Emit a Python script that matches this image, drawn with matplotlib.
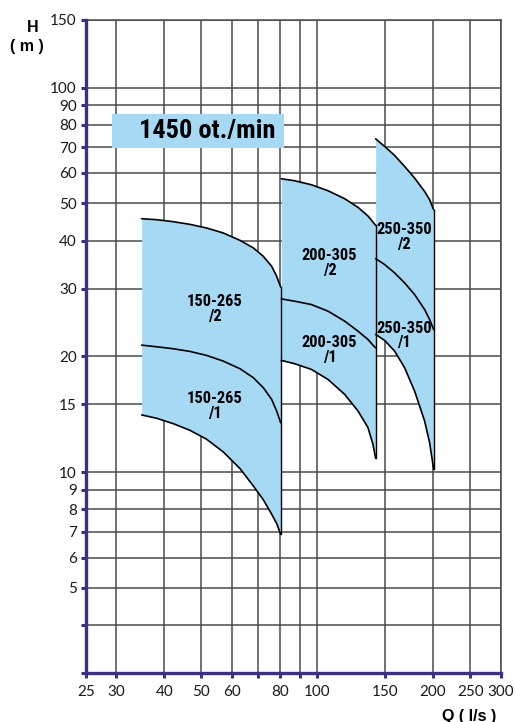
import matplotlib
matplotlib.use("Agg")
import matplotlib.pyplot as plt
from matplotlib.ticker import FixedLocator, FixedFormatter, NullLocator

# ---------------- data ----------------
x_ticks = [25, 30, 40, 50, 60, 70, 80, 90, 100, 150, 200, 250, 300]
x_tick_labels = ["25", "30", "40", "50", "60", "", "80", "", "100", "150", "200", "250", "300"]
y_ticks = [3, 4, 5, 6, 7, 8, 9, 10, 15, 20, 30, 40, 50, 60, 70, 80, 90, 100, 150]
y_tick_labels = ["", "", "5", "6", "7", "8", "9", "10", "15", "20", "30", "40", "50",
                 "60", "70", "80", "90", "100", "150"]

# pump 150-265
q_150 = [34.95, 38.24, 42.25, 46.67, 51.57, 56.98, 62.97, 68.21, 72.40, 76.11, 78.42, 80.33]
h_150_2 = [45.62, 45.35, 44.81, 44.10, 43.15, 41.88, 40.08, 38.30, 36.43, 34.32, 32.33, 30.33]
h_150_1 = [21.40, 21.19, 20.94, 20.61, 20.12, 19.45, 18.58, 17.61, 16.59, 15.47, 14.43, 13.45]
h_150_min = [14.09, 13.81, 13.37, 12.85, 12.18, 11.29, 10.22, 9.21, 8.48, 7.78, 7.36, 6.90]

# pump 200-305
q_200 = [80.64, 87.34, 96.52, 106.65, 117.84, 127.63, 135.51, 139.62, 141.87]
h_200_2 = [57.95, 57.26, 55.91, 53.94, 51.43, 48.83, 46.37, 44.72, 43.84]
h_200_1 = [28.23, 27.84, 27.29, 26.23, 24.71, 23.27, 22.14, 21.40, 21.06]
h_200_min = [19.53, 19.15, 18.51, 17.43, 15.94, 14.43, 13.06, 11.82, 10.87]

# pump 250-350
q_250 = [141.87, 149.74, 158.97, 168.75, 179.16, 190.21, 195.98, 200.8]
h_250_2 = [73.6, 70.31, 66.63, 62.39, 58.18, 53.73, 51.12, 48.15]
h_250_1 = [35.93, 34.67, 32.97, 31.07, 28.97, 26.49, 24.95, 23.50]
h_250_min = [22.82, 22.01, 20.65, 18.69, 16.25, 13.59, 11.94, 10.18]

labels_150 = ["150-265\n/2", "150-265\n/1"]
labels_200 = ["200-305\n/2", "200-305\n/1"]
labels_250 = ["250-350\n/2", "250-350\n/1"]
speed_text = "1450 ot./min"

# ---------------- styling ----------------
FILL = "#a5d9f4"
AXIS = "#3b2f8c"
GRID = "#4a4a4a"
W, H = 515, 722
DPI = 100
label_font = ["Roboto Condensed", "Liberation Sans Narrow", "Liberation Sans", "DejaVu Sans"]
tick_font = ["Lato", "DejaVu Sans"]

fig = plt.figure(figsize=(W / DPI, H / DPI), dpi=DPI)
ax_l, ax_r, ax_t, ax_b = 85.7, 500.7, 19.9, 673.3
ax = fig.add_axes([ax_l / W, (H - ax_b) / H, (ax_r - ax_l) / W, (ax_b - ax_t) / H])
ax.set_xscale("log")
ax.set_yscale("log")
ax.set_xlim(25, 300)
ax.set_ylim(3, 150)

ax.xaxis.set_major_locator(FixedLocator(x_ticks))
ax.xaxis.set_major_formatter(FixedFormatter(x_tick_labels))
ax.xaxis.set_minor_locator(NullLocator())
ax.yaxis.set_major_locator(FixedLocator(y_ticks))
ax.yaxis.set_major_formatter(FixedFormatter(y_tick_labels))
ax.yaxis.set_minor_locator(NullLocator())

ax.grid(True, which="major", color=GRID, linewidth=1.1, zorder=0)
ax.set_axisbelow(True)
for s in ["top", "right"]:
    ax.spines[s].set_visible(False)
for s in ["left", "bottom"]:
    ax.spines[s].set_color(AXIS)
    ax.spines[s].set_linewidth(2.4)
ax.axhline(150, color=GRID, lw=1.1, zorder=0, clip_on=False)
ax.axvline(300, color=GRID, lw=1.1, zorder=0, clip_on=False)

ax.tick_params(axis="both", which="major", direction="out", length=3.5, width=2.2,
               color=AXIS, labelsize=11, labelcolor="#1a1a1a")
ax.tick_params(axis="y", pad=3)
ax.tick_params(axis="x", pad=5)
for lab in ax.get_xticklabels() + ax.get_yticklabels():
    lab.set_family(tick_font)

def draw_pump(q, top, mid, bot, labels, xc, y2, y1):
    ax.fill_between(q, bot, top, color=FILL, lw=0, zorder=2)
    for h in (top, mid, bot):
        ax.plot(q, h, color="black", lw=1.2, zorder=3, solid_capstyle="round")
    ax.plot([q[-1], q[-1]], [bot[-1], top[-1]], color="black", lw=1.0, zorder=3)
    for txt, yy in ((labels[0], y2), (labels[1], y1)):
        ax.text(xc, yy, txt, ha="center", va="center", fontsize=11.8,
                fontweight="bold", family=label_font, linespacing=0.95, zorder=4)

def px2q(px):
    return 25 * 10 ** ((px - ax_l) / (ax_r - ax_l) * 1.0791812)

def px2h(py):
    return 3 * 10 ** ((ax_b - py) / (ax_b - ax_t) * 1.69897)

draw_pump(q_150, h_150_2, h_150_1, h_150_min, labels_150, px2q(215), px2h(309), px2h(406))
draw_pump(q_200, h_200_2, h_200_1, h_200_min, labels_200, px2q(329.5), px2h(263), px2h(350))
draw_pump(q_250, h_250_2, h_250_1, h_250_min, labels_250, px2q(404), px2h(237), px2h(335.5))

# speed box
fig.patches.append(plt.Rectangle((111.7 / W, (H - 147.7) / H), (284.3 - 111.7) / W,
                                 (147.7 - 114) / H, transform=fig.transFigure,
                                 facecolor=FILL, edgecolor="none", zorder=5))
fig.text(207.5 / W, (H - 131) / H, speed_text, ha="center", va="center", fontsize=19,
         fontweight="bold", family=label_font, zorder=6)

# axis titles
fig.text(33 / W, (H - 27) / H, "H", ha="center", va="center", fontsize=11.5,
         fontweight="bold", family=["Liberation Sans", "DejaVu Sans"])
fig.text(27 / W, (H - 46) / H, "( m )", ha="center", va="center", fontsize=11.5,
         fontweight="bold", family=["Liberation Sans", "DejaVu Sans"])
fig.text(469 / W, (H - 716) / H, "Q ( l/s )", ha="center", va="center", fontsize=11.5,
         fontweight="bold", family=["Liberation Sans", "DejaVu Sans"])

fig.savefig("out.png", dpi=DPI)
